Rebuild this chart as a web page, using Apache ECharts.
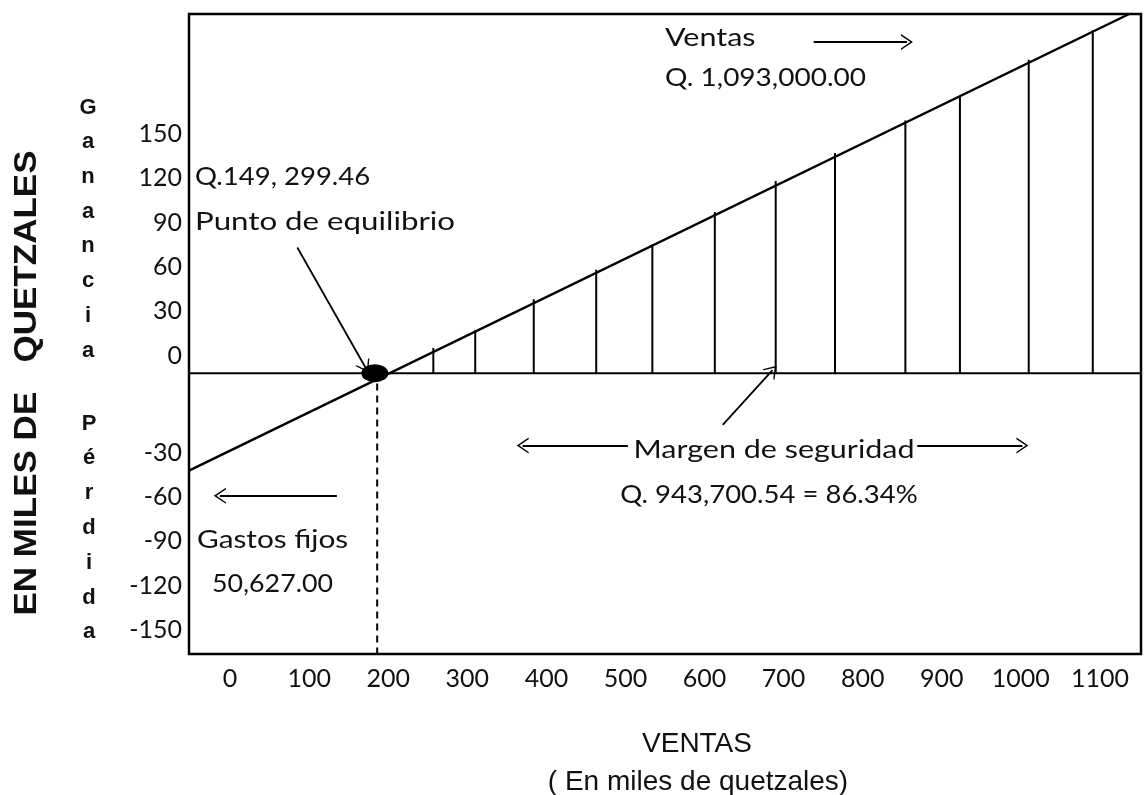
<!DOCTYPE html>
<html>
<head>
<meta charset="utf-8">
<script src="https://cdn.jsdelivr.net/npm/echarts@6/dist/echarts.min.js"></script>
<style>
  html, body { margin: 0; background: #fff; }
  #chart { width: 1145px; height: 795px; }
</style>
</head>
<body>
<div id="chart"></div>
<script>
// axis ticks, thousands of quetzales
const xTicks = [0, 100, 200, 300, 400, 500, 600, 700, 800, 900, 1000, 1100];
const yTicks = [-150, -120, -90, -60, -30, 0, 30, 60, 90, 120, 150];

// sales / profit line as drawn
const lineX = [-52, 1137];
const lineY = [-66, 243];

// vertical hatch of the margin of safety (x, height up to the line)
const hatchX = [257, 310, 384, 463, 534, 613, 690, 765, 854, 923, 1010, 1091];
const hatchTop = [17, 29, 50, 70, 87, 109, 130, 149, 171, 187, 212, 232];

// break-even point and its drop line
const breakEven = [183, 0];
const dropX = [186, 186];
const dropY = [-7, -190];

// annotation arrows [x1, y1, x2, y2], head at the second point
const arrows = [
  [85, 85, 171, 4],      // punto de equilibrio
  [738, 224, 856, 224],  // ventas
  [503, -49, 370, -49],  // margen, left
  [869, -49, 1002, -49], // margen, right
  [623, -35, 686, 2],    // margen, up
  [135, -83, -13, -83]   // gastos fijos
];

const xMin = -52, xMax = 1152;
const yMin = -190, yMax = 243;

const chart = echarts.init(document.getElementById('chart'));

const txt = '#111';
const labelFont = 'Lato';
const chevron = 'path://M0,10 L5,0 L10,10 L9,10 L5,2.2 L1,10 Z';

const arrowLines = arrows.map(a => [
  { coord: [a[0], a[1]], symbol: 'none' },
  { coord: [a[2], a[3]], symbol: chevron, symbolSize: [16, 12] }
]);

function vText(word) {
  return word.split('').join('\n');
}

// annotation text; words are set wider than figures, like the sketch
function note(text, x, y, opts) {
  opts = opts || {};
  return {
    type: 'text', x: x, y: y,
    scaleX: opts.sx || 1.22,
    style: {
      text: text, fill: txt, font: '25px Lato',
      align: opts.align || 'left', verticalAlign: 'middle'
    }
  };
}

chart.setOption({
  animation: false,
  grid: {
    left: 189, right: 4, top: 14, bottom: 141,
    show: true, borderColor: '#000', borderWidth: 2.5
  },
  xAxis: {
    type: 'value',
    min: xMin,
    max: xMax,
    axisLine: { show: false },
    axisTick: { show: false },
    splitLine: { show: false },
    axisLabel: {
      customValues: xTicks,
      showMinLabel: true,
      showMaxLabel: true,
      margin: 12,
      color: txt,
      fontFamily: labelFont,
      fontSize: 25,
      formatter: v => String(v)
    }
  },
  yAxis: {
    type: 'value',
    min: yMin,
    max: yMax,
    axisLine: { show: false },
    axisTick: { show: false },
    splitLine: { show: false },
    axisLabel: {
      // blank end stops so the first/last real labels are never dropped
      customValues: [yMin].concat(yTicks, [yMax]),
      showMinLabel: false,
      showMaxLabel: false,
      margin: 7,
      color: txt,
      fontFamily: labelFont,
      fontSize: 25,
      lineHeight: 35,
      // as in the sketch: gains sit above their level, losses below
      formatter: v => {
        if (v === yMin || v === yMax) return '';
        return v >= 0 ? v + '\n' : '\n\n' + v;
      }
    }
  },
  graphic: [
    {
      type: 'text', x: 27, y: 383, rotation: Math.PI / 2, scaleX: 1.13,
      style: {
        text: 'EN MILES DE   QUETZALES', fill: txt,
        font: 'bold 31px "Liberation Sans", Arial, sans-serif',
        align: 'center', verticalAlign: 'middle'
      }
    },
    {
      type: 'text', x: 88, y: 229,
      style: {
        text: vText('Ganancia'), fill: txt, lineHeight: 34.7,
        font: 'bold 22px "Liberation Sans", Arial, sans-serif',
        align: 'center', verticalAlign: 'middle'
      }
    },
    {
      type: 'text', x: 89, y: 528,
      style: {
        text: vText('Pérdida'), fill: txt, lineHeight: 34.8,
        font: 'bold 22px "Liberation Sans", Arial, sans-serif',
        align: 'center', verticalAlign: 'middle'
      }
    },
    {
      type: 'text', x: 697, y: 744,
      style: {
        text: 'VENTAS', fill: txt,
        font: '28px "Liberation Sans", Arial, sans-serif',
        align: 'center', verticalAlign: 'middle'
      }
    },
    {
      type: 'text', x: 698, y: 782,
      style: {
        text: '( En miles de quetzales)', fill: txt,
        font: '28px "Liberation Sans", Arial, sans-serif',
        align: 'center', verticalAlign: 'middle'
      }
    },
    note('Ventas', 665, 38),
    note('Q. 1,093,000.00', 665, 78, { sx: 1.12 }),
    note('Q.149, 299.46', 195, 177, { sx: 1.1 }),
    note('Punto de equilibrio', 195, 222, { sx: 1.25 }),
    note('Margen de seguridad', 774, 450, { align: 'center' }),
    note('Q. 943,700.54 = 86.34%', 769, 495, { sx: 1.1, align: 'center' }),
    note('Gastos fijos', 197, 540, { sx: 1.19 }),
    note('50,627.00', 212, 584, { sx: 1.07 })
  ],
  series: [
    {
      name: 'Margen',
      type: 'bar',
      barWidth: 2,
      silent: true,
      itemStyle: { color: '#000' },
      data: hatchX.map((x, i) => [x, hatchTop[i]])
    },
    {
      name: 'Cero',
      type: 'line',
      symbol: 'none',
      silent: true,
      lineStyle: { color: '#000', width: 2 },
      data: [[xMin, 0], [xMax, 0]]
    },
    {
      name: 'Ventas',
      type: 'line',
      symbol: 'none',
      silent: true,
      lineStyle: { color: '#000', width: 2.5 },
      data: lineX.map((x, i) => [x, lineY[i]]),
      markLine: {
        silent: true,
        animation: false,
        label: { show: false },
        lineStyle: { color: '#000', width: 1.8, type: 'solid' },
        emphasis: { disabled: true },
        data: arrowLines
      }
    },
    {
      name: 'Equilibrio caida',
      type: 'line',
      symbol: 'none',
      silent: true,
      lineStyle: { color: '#000', width: 2, type: [7, 5] },
      data: dropX.map((x, i) => [x, dropY[i]])
    },
    {
      name: 'Punto de equilibrio',
      type: 'scatter',
      silent: true,
      symbol: 'circle',
      symbolSize: [27, 18],
      itemStyle: { color: '#000', opacity: 1 },
      data: [breakEven]
    }
  ]
});
</script>
</body>
</html>
